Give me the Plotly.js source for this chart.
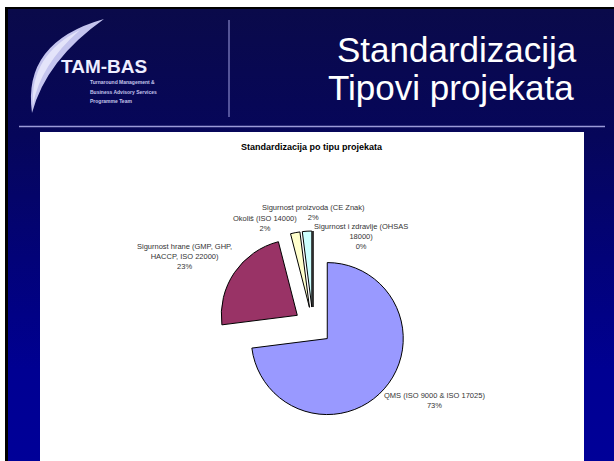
<!DOCTYPE html>
<html>
<head>
<meta charset="utf-8">
<script src="https://cdn.plot.ly/plotly-3.0.1.min.js"></script>
<style>
html,body{margin:0;padding:0;background:#ffffff;width:614px;height:461px;overflow:hidden;}
#bg{position:absolute;left:5px;top:7px;width:609px;height:454px;box-sizing:border-box;
border-left:3px solid #000;border-top:2px solid #000;
background:linear-gradient(to bottom,#0a0a4a 0%,#06065a 28%,#020278 55%,#000092 80%,#000098 100%);}
#chart{position:absolute;left:0;top:0;width:614px;height:461px;}
</style>
</head>
<body>
<div id="bg"></div>
<div id="chart"></div>
<script>
// ---- data ----
var categories = [
  "QMS (ISO 9000 & ISO 17025)",
  "Sigurnost hrane (GMP, GHP, HACCP, ISO 22000)",
  "Okoliš (ISO 14000)",
  "Sigurnost proizvoda (CE Znak)",
  "Sigurnost i zdravlje (OHSAS 18000)"
];
var displayLabels = [
  "QMS (ISO 9000 & ISO 17025)",
  "Sigurnost hrane (GMP, GHP,<br>HACCP, ISO 22000)",
  "Okoliš (ISO 14000)",
  "Sigurnost proizvoda (CE Znak)",
  "Sigurnost i zdravlje (OHSAS<br>18000)"
];
var values = [73, 23, 2, 2, 0];
var sliceColors = ["#9999ff", "#993366", "#ffffcc", "#ccffff", "#660066"];
var chartTitle = "Standardizacija po tipu projekata";
var slideTitle1 = "Standardizacija";
var slideTitle2 = "Tipovi projekata";
var logoText = "TAM-BAS";
var logoSub = ["Turnaround Management &", "Business Advisory Services", "Programme Team"];

// ---- helpers (pixel -> paper) ----
var W = 614, H = 461;
function X(px){ return px / W; }
function Y(py){ return 1 - py / H; }
function P(px, py){ return X(px).toFixed(5) + "," + Y(py).toFixed(5); }

var total = values.reduce(function(a,b){return a+b;},0);
function pct(v){ return Math.round(v / total * 100) + "%"; }

// label anchor positions (pixels, center of text block)
var labelPos = [
  [434, 400],
  [184, 256],
  [265, 223],
  [313, 212],
  [361, 236]
];

var trace = {
  type: "pie",
  labels: categories,
  values: values,
  sort: false,
  direction: "clockwise",
  rotation: 0,
  pull: [0.25, 0.25, 0.25, 0.25, 0.25],
  marker: { colors: sliceColors, line: { color: "#000000", width: 1 } },
  textinfo: "none",
  hoverinfo: "none",
  showlegend: false,
  domain: { x: [X(218), X(408)], y: [Y(421), Y(231)] }
};

var annotations = [];
for (var i = 0; i < categories.length; i++) {
  annotations.push({
    xref: "paper", yref: "paper",
    x: X(labelPos[i][0]), y: Y(labelPos[i][1]),
    xanchor: "center", yanchor: "middle",
    text: displayLabels[i] + "<br>" + pct(values[i]),
    showarrow: false, align: "center",
    font: { family: "Liberation Sans, Arial, sans-serif", size: 7.5, color: "#333333" }
  });
}
annotations.push({
  xref: "paper", yref: "paper", x: X(312), y: Y(147),
  xanchor: "center", yanchor: "middle", showarrow: false,
  text: "<b>" + chartTitle + "</b>",
  font: { family: "Liberation Sans, Arial, sans-serif", size: 9, color: "#000000" }
});
annotations.push({
  xref: "paper", yref: "paper", x: X(457), y: Y(49),
  xanchor: "center", yanchor: "middle", showarrow: false,
  text: slideTitle1,
  font: { family: "Liberation Sans, Arial, sans-serif", size: 35, color: "#ffffff" }
});
annotations.push({
  xref: "paper", yref: "paper", x: X(451), y: Y(88),
  xanchor: "center", yanchor: "middle", showarrow: false,
  text: slideTitle2,
  font: { family: "Liberation Sans, Arial, sans-serif", size: 35, color: "#ffffff" }
});
annotations.push({
  xref: "paper", yref: "paper", x: X(104), y: Y(66),
  xanchor: "center", yanchor: "middle", showarrow: false,
  text: "<b>" + logoText + "</b>",
  font: { family: "Liberation Sans, Arial, sans-serif", size: 19, color: "#eeeeff" }
});
var subY = [82, 91.5, 101];
for (var k = 0; k < logoSub.length; k++) {
  annotations.push({
    xref: "paper", yref: "paper", x: X(88), y: Y(subY[k]),
    xanchor: "left", yanchor: "middle", showarrow: false, align: "left",
    text: "<b>" + logoSub[k] + "</b>",
    font: { family: "Liberation Sans, Arial, sans-serif", size: 5, color: "#c4c4ec" }
  });
}

var shapes = [
  // white chart area
  { type: "rect", xref: "paper", yref: "paper", x0: X(40), x1: X(584), y0: Y(461), y1: Y(132),
    fillcolor: "#ffffff", line: { width: 0 }, layer: "below" },
  // horizontal separator
  { type: "line", xref: "paper", yref: "paper", x0: X(19), x1: X(605), y0: Y(126.5), y1: Y(126.5),
    line: { color: "#9a9ad8", width: 1.5 }, layer: "below" },
  // vertical separator
  { type: "line", xref: "paper", yref: "paper", x0: X(229), x1: X(229), y0: Y(20), y1: Y(117),
    line: { color: "#a0a0e0", width: 1 }, layer: "below" },
  // logo swoosh
  { type: "path", xref: "paper", yref: "paper", layer: "below",
    path: "M" + P(104,19) + " Q" + P(22,42) + " " + P(32,113) + " Q" + P(46,60) + " " + P(104,19) + " Z",
    fillcolor: "#c4c4ee", line: { width: 0 } },
  // lighter core of swoosh
  { type: "path", xref: "paper", yref: "paper", layer: "below",
    path: "M" + P(80,30) + " Q" + P(30,55) + " " + P(33,105) + " Q" + P(40,65) + " " + P(80,30) + " Z",
    fillcolor: "#e4e4fa", line: { width: 0 } }
];

var layout = {
  width: W, height: H,
  margin: { l: 0, r: 0, t: 0, b: 0 },
  paper_bgcolor: "rgba(0,0,0,0)",
  plot_bgcolor: "rgba(0,0,0,0)",
  showlegend: false,
  annotations: annotations,
  shapes: shapes
};

Plotly.newPlot("chart", [trace], layout, { displayModeBar: false, staticPlot: true });
</script>
</body>
</html>
